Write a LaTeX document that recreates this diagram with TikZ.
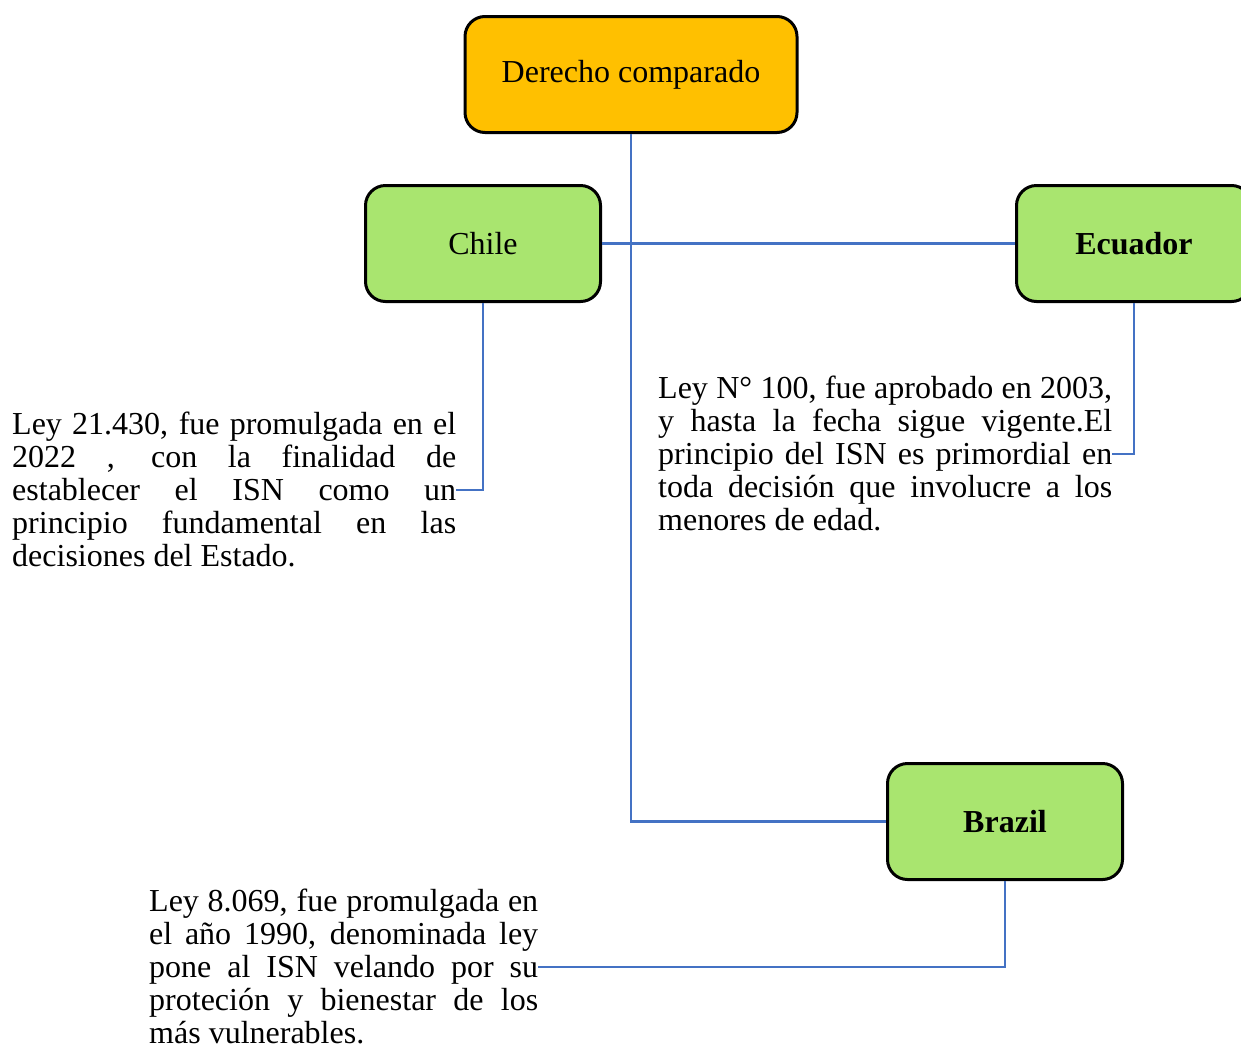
\documentclass[tikz,border=0pt]{standalone}
\usepackage{fontspec}
\setmainfont{Liberation Serif}
\definecolor{boxorange}{HTML}{FFC000}
\definecolor{boxgreen}{HTML}{A9E56F}
\definecolor{linkblue}{HTML}{4472C4}
\begin{document}
\begin{tikzpicture}[x=1pt,y=-1pt,
  box/.style={draw=black,line width=3pt,rounded corners=20pt,minimum width=235pt,minimum height=116pt,inner sep=0pt,font=\fontsize{32}{33}\selectfont},
  desc/.style={anchor=north west,inner sep=0pt,align=justify,font=\fontsize{32}{33}\selectfont},
  link/.style={draw=linkblue,line width=2.2pt}]
\useasboundingbox (0,0) rectangle (1241,1045);
\fill[white] (0,0) rectangle (1241,1045);
\node[box,fill=boxorange,minimum width=332pt] (der) at (631,74.5) {\raisebox{-3pt}{Derecho comparado}};
\node[box,fill=boxgreen] (chi) at (483,243.5) {Chile};
\node[box,fill=boxgreen] (ecu) at (1134,243.5) {\textbf{Ecuador}};
\node[box,fill=boxgreen] (bra) at (1005,821.5) {\textbf{Brazil}};
\node[desc,text width=444pt] (chit) at (12,412) {\tolerance=10000 Ley 21.430, fue promulgada en el\linebreak 2022 , con la finalidad de\linebreak establecer el ISN como un\linebreak principio fundamental en las\linebreak decisiones del Estado.};
\node[desc,text width=454pt] (ecut) at (658,376) {\tolerance=10000 Ley N° 100, fue aprobado en 2003,\linebreak y hasta la fecha sigue vigente.El\linebreak principio del ISN es primordial en\linebreak toda decisión que involucre a los\linebreak menores de edad.};
\node[desc,text width=389pt] (brat) at (149,889) {\tolerance=10000 Ley 8.069, fue promulgada en\linebreak el año 1990, denominada ley\linebreak pone al ISN velando por su\linebreak proteción y bienestar de los\linebreak más vulnerables.};
\draw[link] (der.south) |- (bra.west);
\draw[link] (chi.east) -- (ecu.west);
\draw[link] (chi.south) |- (chit.east);
\draw[link] (ecu.south) |- (ecut.east);
\draw[link] (bra.south) |- (brat.east);
\end{tikzpicture}
\end{document}
